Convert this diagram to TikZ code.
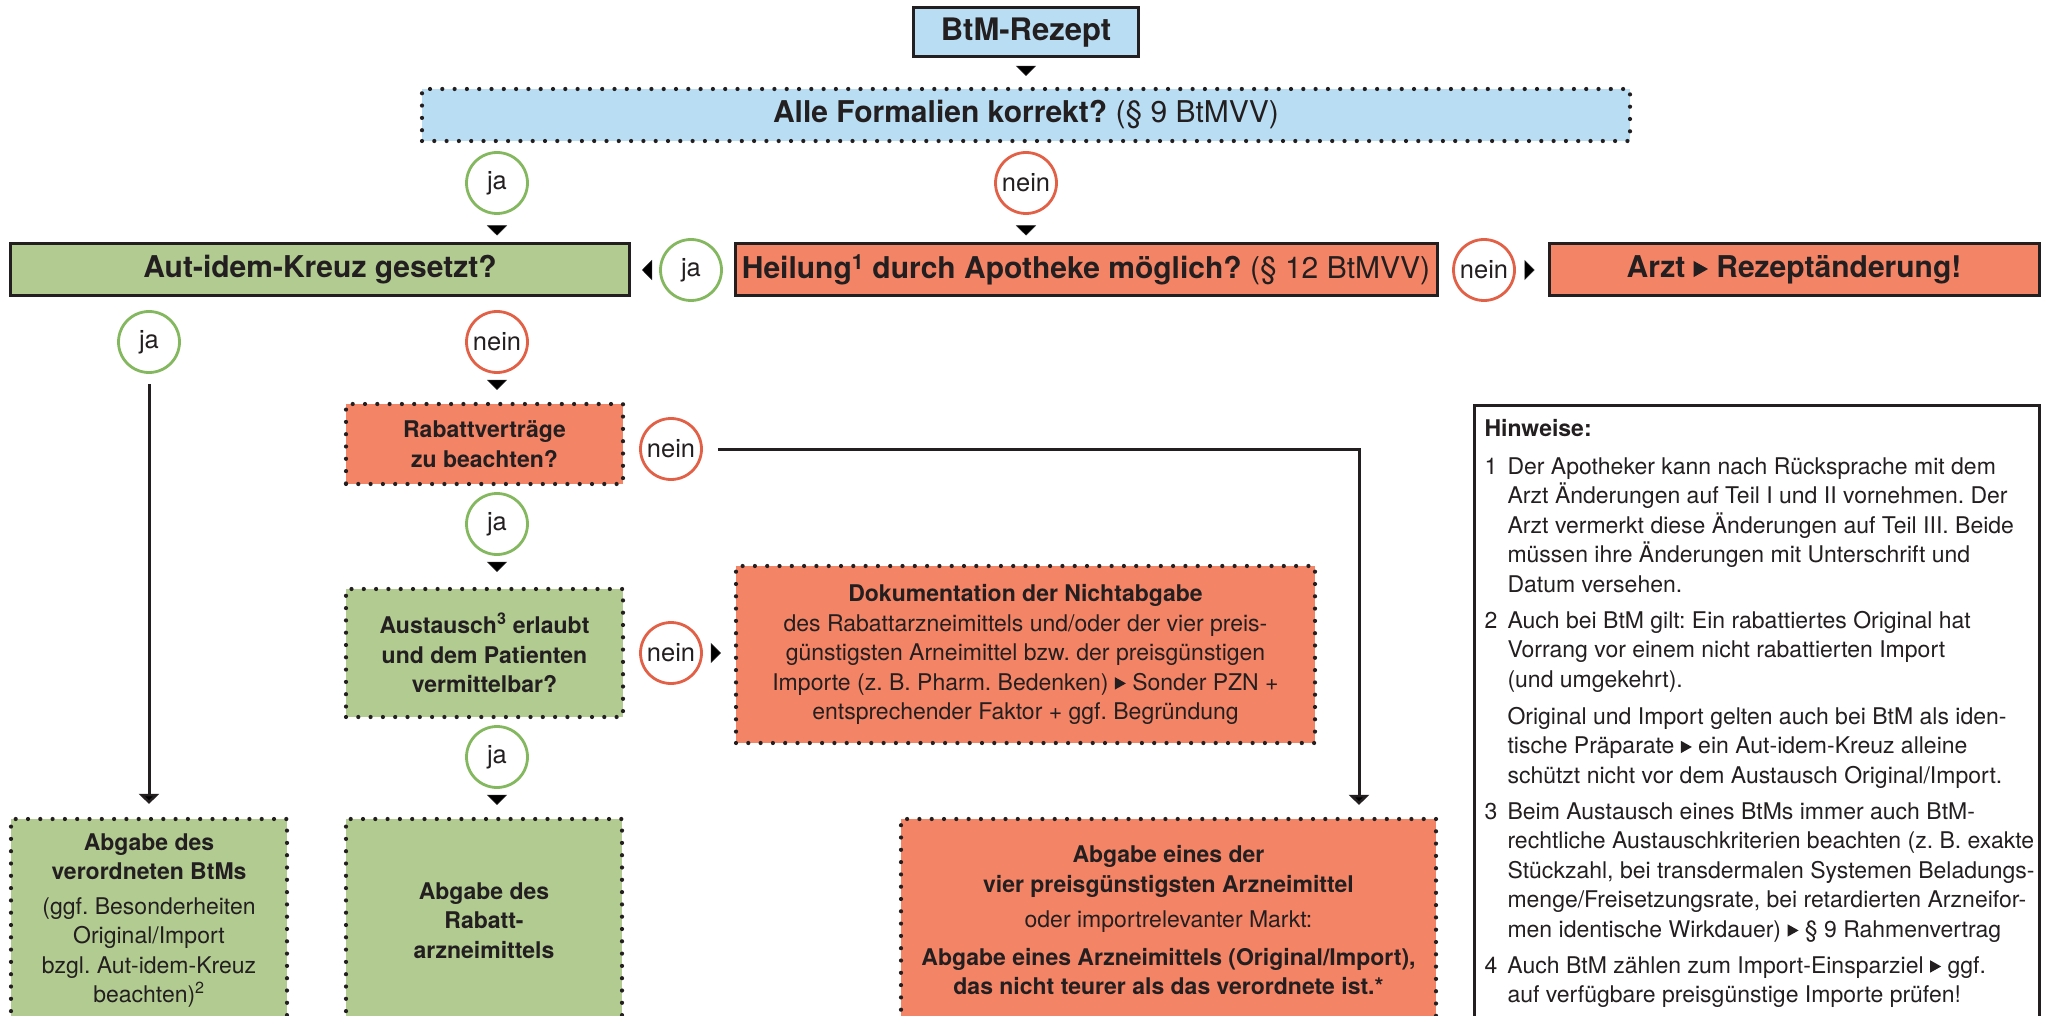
\documentclass[tikz,border=0pt]{standalone}
\usepackage{fontspec}
\setmainfont{TeX Gyre Heros}
\usetikzlibrary{arrows.meta, positioning}
\frenchspacing
\definecolor{ink}{RGB}{35,31,32}
\definecolor{rezeptblau}{RGB}{185,221,243}
\definecolor{jagruen}{RGB}{178,203,145}
\definecolor{neinlachs}{RGB}{244,132,102}
\definecolor{jaring}{RGB}{132,184,95}
\definecolor{neinring}{RGB}{226,96,70}
\newcommand{\grosstext}{\fontsize{30}{36}\selectfont}
\newcommand{\kleintext}{\fontsize{23}{29.5}\selectfont}
\newcommand{\pfeil}{\tikz[baseline=0pt]\fill[ink] (0pt,0.02em) -- (0pt,0.56em) -- (0.48em,0.29em) -- cycle;}

\begin{document}
\begin{tikzpicture}[
    x=1pt, y=-1pt,
    every node/.style={text=ink},
    solidbox/.style={rectangle, draw=ink, line width=3pt, inner sep=0pt, align=center},
    dotbox/.style={rectangle, draw=ink, line width=4.2pt, line cap=round,
        dash pattern=on 0pt off 12.3pt, inner sep=0pt, align=center},
    antwort/.style={circle, fill=white, line width=2.8pt, minimum size=61pt,
        inner sep=0pt, font=\fontsize{25.5}{28}\selectfont},
    jakreis/.style={antwort, draw=jaring},
    neinkreis/.style={antwort, draw=neinring},
    flow/.style={draw=ink, line width=3pt, -{Triangle[width=20pt,length=10pt]}},
    zeiger/.style={draw=ink, line width=0.5pt, -{Triangle[width=20pt,length=10pt]}},
]
\useasboundingbox (0,0) rectangle (2046,1016);
\clip (0,0) rectangle (2046,1016);

% === TOP ===
\node[solidbox, fill=rezeptblau, minimum width=225pt, minimum height=49pt,
      font=\fontsize{31}{36}\selectfont\bfseries] (rezept) at (1026,32.5) {BtM-Rezept};
\node[dotbox, fill=rezeptblau, minimum width=1208pt, minimum height=52pt,
      font=\grosstext] (formalien) at (1026,115) {\textbf{Alle Formalien korrekt?} (§ 9 BtMVV)};

\node[jakreis] (jaA) at (497,183) {ja};
\node[neinkreis] (neinA) at (1026,183) {nein};

% === SECOND ROW ===
\node[solidbox, fill=jagruen, minimum width=619pt, minimum height=52pt,
      font=\grosstext\bfseries] (autidem) at (320,270) {Aut-idem-Kreuz gesetzt?};
\node[solidbox, fill=neinlachs, minimum width=702pt, minimum height=52pt,
      font=\grosstext] (heilung) at (1086,270)
      {\textbf{Heilung\textsuperscript{1} durch Apotheke möglich?} (§ 12 BtMVV)};
\node[solidbox, fill=neinlachs, minimum width=490pt, minimum height=52pt,
      font=\grosstext\bfseries] (arzt) at (1794,270) {Arzt \pfeil{} Rezeptänderung!};
\node[jakreis] (jaB) at (691,270) {ja};
\node[neinkreis] (neinB) at (1484,270) {nein};

\node[jakreis] (jaC) at (149,342) {ja};
\node[neinkreis] (neinC) at (497,342) {nein};

% === RABATT COLUMN ===
\node[dotbox, fill=neinlachs, minimum width=277pt, minimum height=80pt,
      font=\kleintext\bfseries] (rabatt) at (484.5,444) {Rabattverträge\\zu beachten?};
\node[neinkreis] (neinD) at (671,449) {nein};
\node[jakreis] (jaD) at (497,524) {ja};

\node[dotbox, fill=jagruen, minimum width=277pt, minimum height=128pt,
      font=\kleintext\bfseries] (austausch) at (484.5,653)
      {Austausch\textsuperscript{3} erlaubt\\und dem Patienten\\vermittelbar?};
\node[neinkreis] (neinE) at (671,653) {nein};
\node[jakreis] (jaE) at (497,757) {ja};

\node[dotbox, fill=neinlachs, minimum width=579pt, minimum height=177pt,
      font=\kleintext] (doku) at (1025.5,654.5) {\textbf{Dokumentation der Nichtabgabe}\\
    des Rabattarzneimittels und/oder der vier preis-\\
    günstigsten Arneimittel bzw. der preisgünstigen\\
    Importe (z. B. Pharm. Bedenken) \pfeil{} Sonder PZN +\\
    entsprechender Faktor + ggf. Begründung};

% === BOTTOM BOXES ===
\node[dotbox, fill=jagruen, minimum width=276pt, minimum height=203pt,
      font=\kleintext] (abgabeBtM) at (149,920.5) {\textbf{Abgabe des}\\
    \textbf{verordneten BtMs}\\[5pt]
    (ggf. Besonderheiten\\Original/Import\\bzgl. Aut-idem-Kreuz\\beachten)\textsuperscript{2}};
\node[dotbox, fill=jagruen, minimum width=276pt, minimum height=203pt,
      font=\kleintext\bfseries] (abgabeRabatt) at (484,920.5)
      {Abgabe des\\Rabatt-\\arzneimittels};
\node[dotbox, fill=neinlachs, minimum width=535pt, minimum height=203pt,
      font=\kleintext] (abgabeEines) at (1168.5,920.5) {\textbf{Abgabe eines der}\\
    \textbf{vier preisgünstigsten Arzneimittel}\\[6pt]
    oder importrelevanter Markt:\\[8pt]
    \textbf{Abgabe eines Arzneimittels (Original/Import),}\\
    \textbf{das nicht teurer als das verordnete ist.*}};

% === HINWEISE ===
\node[draw=ink, line width=3pt, anchor=north west, inner xsep=10.5pt, inner ysep=14pt,
      font=\kleintext] (hinweise) at (1472.5,403.5) {\parbox[c][640pt][t]{544pt}{%
    \hfuzz=30pt\hbadness=10000
    \noindent\textbf{Hinweise:}\par\vspace{8.5pt}
    \noindent\hangindent=23pt\hangafter=1\makebox[23pt][l]{1}%
    \mbox{Der Apotheker kann nach Rücksprache mit dem}\newline
    \mbox{Arzt Änderungen auf Teil I und II vornehmen. Der}\newline
    \mbox{Arzt vermerkt diese Änderungen auf Teil III. Beide}\newline
    \mbox{müssen ihre Änderungen mit Unterschrift und}\newline
    \mbox{Datum versehen.}\par\vspace{6.5pt}
    \noindent\hangindent=23pt\hangafter=1\makebox[23pt][l]{2}%
    \mbox{Auch bei BtM gilt: Ein rabattiertes Original hat}\newline
    \mbox{Vorrang vor einem nicht rabattierten Import}\newline
    \mbox{(und umgekehrt).}\par\vspace{7.5pt}
    \noindent\hangindent=23pt\hangafter=0
    \mbox{Original und Import gelten auch bei BtM als iden-}\newline
    \mbox{tische Präparate \pfeil{} ein Aut-idem-Kreuz alleine}\newline
    \mbox{schützt nicht vor dem Austausch Original/Import.}\par\vspace{6.5pt}
    \noindent\hangindent=23pt\hangafter=1\makebox[23pt][l]{3}%
    \mbox{Beim Austausch eines BtMs immer auch BtM-}\newline
    \mbox{rechtliche Austauschkriterien beachten (z. B. exakte}\newline
    \mbox{Stückzahl, bei transdermalen Systemen Beladungs-}\newline
    \mbox{menge/Freisetzungsrate, bei retardierten Arzneifor-}\newline
    \mbox{men identische Wirkdauer) \pfeil{} § 9 Rahmenvertrag}\par\vspace{6.5pt}
    \noindent\hangindent=23pt\hangafter=1\makebox[23pt][l]{4}%
    \mbox{Auch BtM zählen zum Import-Einsparziel \pfeil{} ggf.}\newline
    \mbox{auf verfügbare preisgünstige Importe prüfen!}\par}};

% === CONNECTORS ===
\draw[zeiger, shorten <=10pt, shorten >=11pt] (rezept) -- (formalien);
\draw[zeiger, shorten <=13pt, shorten >=7pt] (jaA) -- (jaA |- autidem.north);
\draw[zeiger, shorten <=13pt, shorten >=7pt] (neinA) -- (neinA |- heilung.north);
\draw[zeiger, shorten <=10pt, shorten >=11pt] (jaB) -- (jaB -| autidem.east);
\draw[zeiger, shorten <=11.5pt, shorten >=13pt] (neinB) -- (neinB -| arzt.west);

% ja: straight down to the prescribed BtM
\draw[flow, shorten <=10.5pt, shorten >=13pt] (jaC) -- (abgabeBtM);
\draw[zeiger, shorten <=9.5pt, shorten >=12pt] (neinC) -- (neinC |- rabatt.north);

% no discount contract: long way round
\draw[flow, shorten <=15pt, shorten >=12pt] (neinD) -| ([xshift=190.5pt]abgabeEines.north);
\draw[zeiger, shorten <=9.5pt, shorten >=15pt] (jaD) -- (jaD |- austausch.north);
\draw[zeiger, shorten <=11.5pt, shorten >=13pt] (neinE) -- (neinE -| doku.west);
\draw[zeiger, shorten <=9.5pt, shorten >=12pt] (jaE) -- (jaE |- abgabeRabatt.north);

\end{tikzpicture}
\end{document}
